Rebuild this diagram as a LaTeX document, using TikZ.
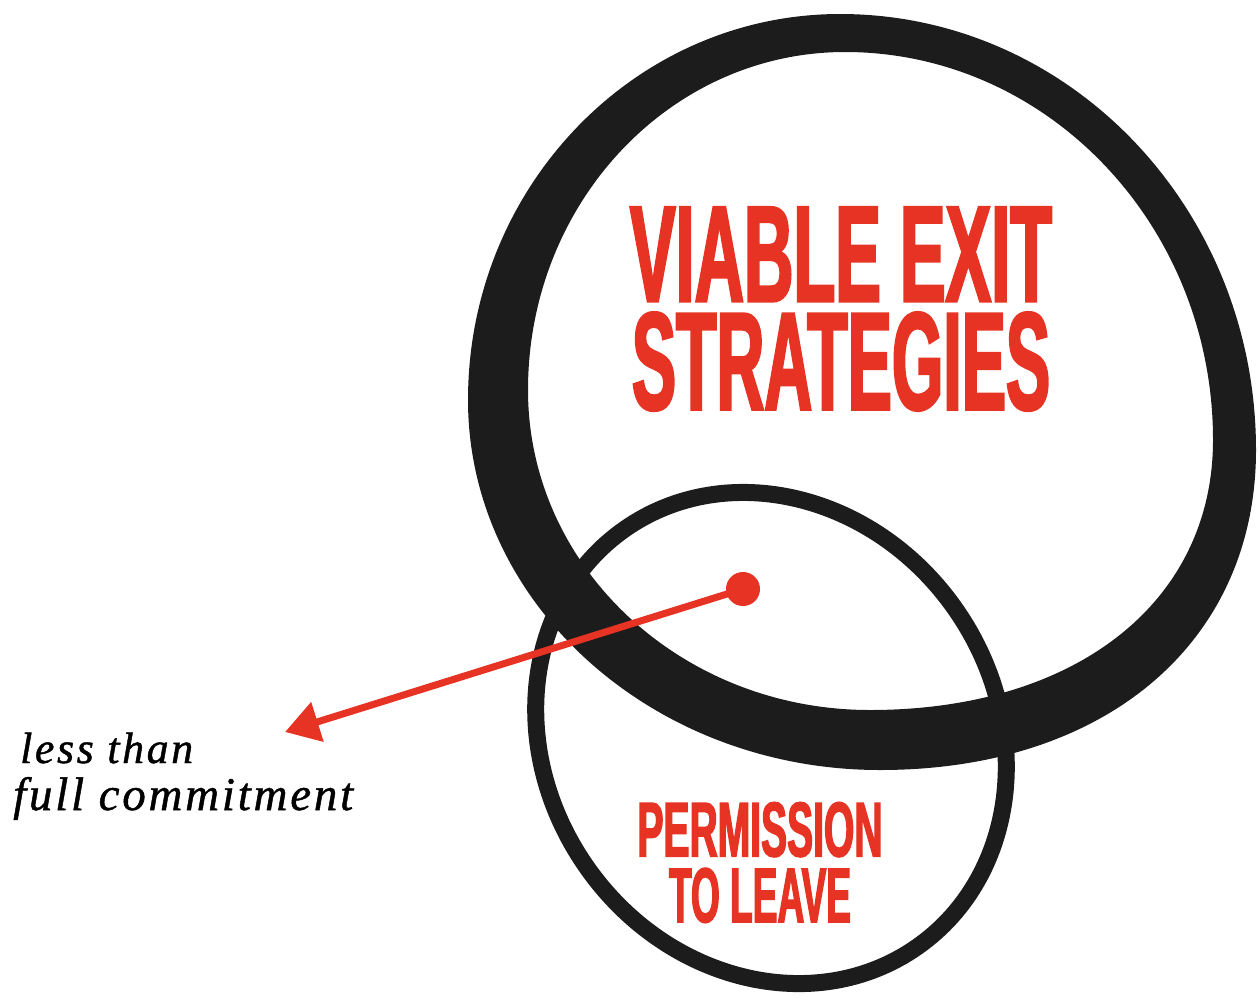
\documentclass[tikz,border=0pt]{standalone}
\usepackage{fontspec}
\usepackage{graphicx}
\setmainfont{Liberation Serif}
\newfontfamily\gothic[FakeStretch=0.6, FakeBold=2]{Liberation Sans}
\newfontfamily\notefont[LetterSpace=6, FakeBold=1]{Liberation Serif}
\usetikzlibrary{positioning, arrows.meta}
\definecolor{inkblack}{HTML}{1C1C1C}
\definecolor{signred}{HTML}{E63323}
\newcommand{\headline}[3]{\resizebox{#1}{#2}{\gothic\bfseries #3}}
\newcommand{\noteline}[2]{\resizebox{#1}{!}{\notefont\itshape\fontsize{34pt}{40pt}\selectfont #2}}

\begin{document}
\begin{tikzpicture}[x=1pt, y=-1pt,
  head/.style={inner sep=0pt, align=center, text=signred},
  note/.style={inner sep=0pt, anchor=base west, text=black},
  pointer/.style={-{Triangle[length=34pt, width=40pt]}, line width=7pt, signred},
  dotnode/.style={circle, fill=signred, minimum size=34pt, inner sep=0pt}
]
  \useasboundingbox (0,0) rectangle (1258,997);

  % big ring: outer edge, then inner edge
  \fill[inkblack, even odd rule]
    (840,14) .. controls (1070,14) and (1256,209) .. (1256,450)
             .. controls (1256,642) and (1106,770) .. (880,770)
             .. controls (653,770) and (468,604) .. (468,400)
             .. controls (468,187) and (635,14) .. (840,14) -- cycle
    (845,52) .. controls (1048,52) and (1213,226) .. (1213,440)
             .. controls (1213,602) and (1076,710) .. (870,710)
             .. controls (681,710) and (528,567) .. (528,390)
             .. controls (528,203) and (670,52) .. (845,52) -- cycle;

  % small ring
  \draw[inkblack, line width=17pt] (771,738) ellipse [x radius=255pt, y radius=225pt, rotate=-55];

  % headlines
  \node[head] (viable) at (841,309) {\headline{422pt}{94pt}{VIABLE EXIT}\\[10pt]\headline{418pt}{97pt}{STRATEGIES}};
  \node[head] (permission) at (760,862.5) {\headline{245pt}{54pt}{PERMISSION}\\[10pt]\headline{182pt}{54pt}{TO LEAVE}};

  % side note
  \node[note] (lessthan) at (20,763) {\noteline{173pt}{less than}};
  \node[note] (commit) at (13,810) {\noteline{340pt}{full commitment}};

  % pointer
  \coordinate (tip) at (285,732);
  \node[dotnode] (dot) at (743,589) {};
  \draw[pointer] (dot.center) -- (tip);
\end{tikzpicture}
\end{document}
